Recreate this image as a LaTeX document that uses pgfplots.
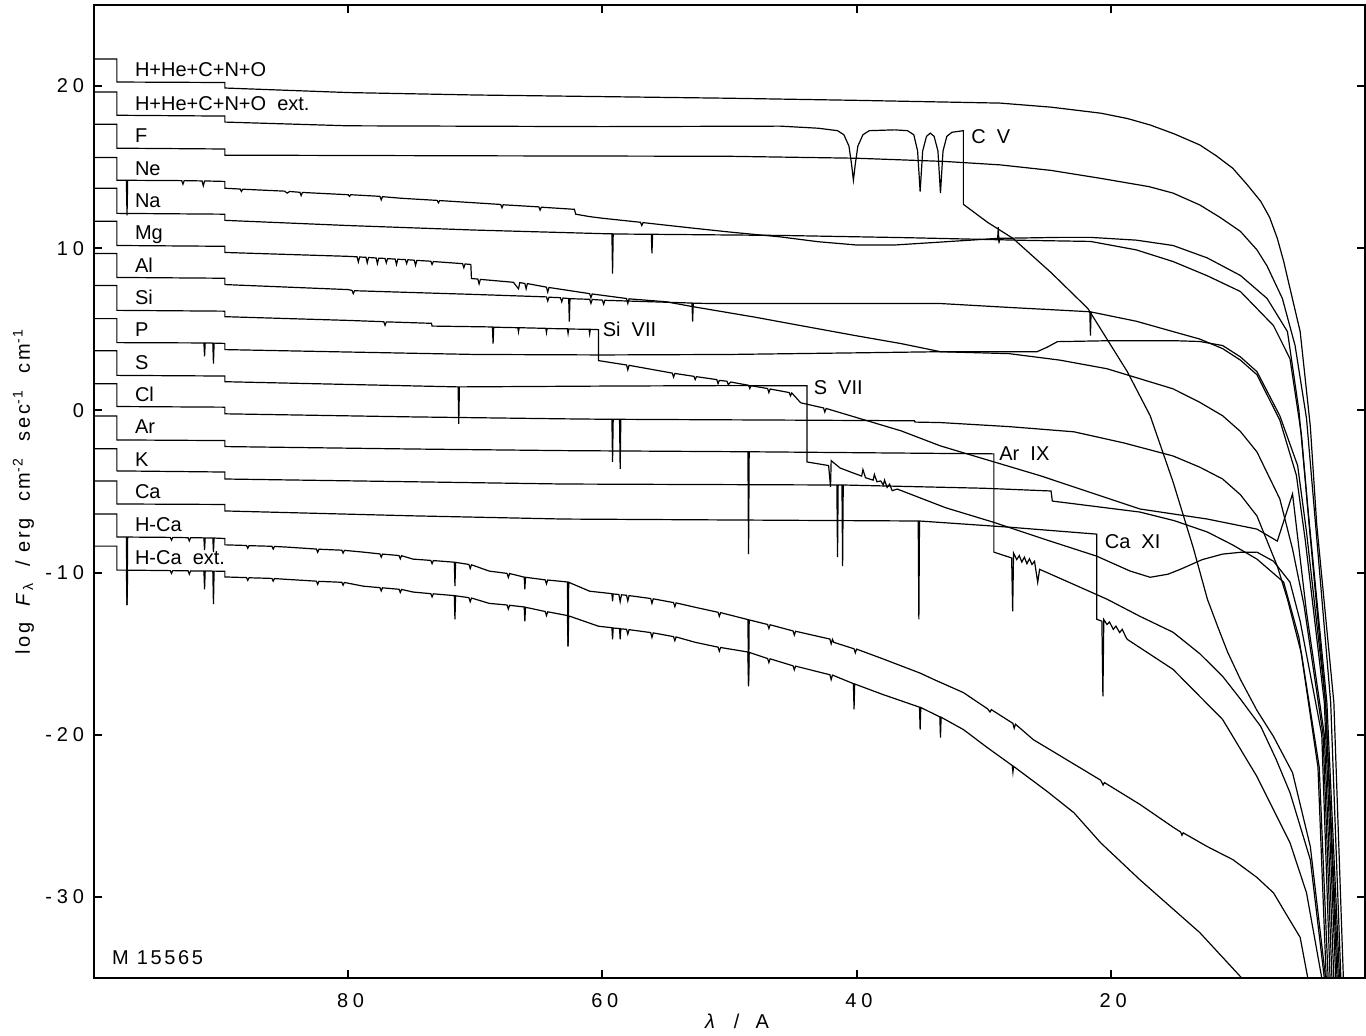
\documentclass[border=0pt]{standalone}
\usepackage{fontspec}
\setmainfont{Liberation Sans}
\newfontfamily\lsfont[LetterSpace=13]{Liberation Sans}
\newfontfamily\tickfont[LetterSpace=24]{Liberation Sans}
\usepackage{pgfplots}
\pgfplotsset{compat=1.18}
\tikzset{sp/.style={black, line width=0.6pt, mark=none},
         lab/.style={anchor=base west, inner sep=0pt}}
\begin{document}
\begin{tikzpicture}
\begin{axis}[
  scale only axis, width=635.5pt, height=486.5pt,
  at={(0pt,0pt)}, anchor=south west,
  xmin=0, xmax=100, ymin=-35, ymax=25, x dir=reverse,
  axis line style={line width=1.3pt},
  tick align=inside, major tick length=4pt,
  every tick/.style={black, line width=1pt},
  xtick={20,40,60,80}, xticklabels={20,40,60,80},
  ytick={-30,-20,-10,0,10,20}, yticklabels={-30,-20,-10,0,10,20},
  xticklabel style={font=\tickfont, yshift=-4pt, xshift=1.2pt},
  yticklabel style={font=\tickfont, xshift=-1.5pt},
  xlabel={\lsfont\textit{λ}\ \ /\ \ A},
  ylabel={\lsfont log\ \ \textit{F}\textsubscript{λ}\ \ /\ erg\ \ cm\textsuperscript{-2}\ \ sec\textsuperscript{-1}\ \ cm\textsuperscript{-1}},
  every axis x label/.style={at={(axis description cs:0.506,-0.045)}, anchor=center},
  every axis y label/.style={at={(axis description cs:-0.0555,0.5)}, anchor=center, rotate=90},
]
% 1 H+He+C+N+O
\addplot[sp] coordinates {(100,21.67)(98.2,21.67)(98.2,20.25)(89.7,20.22)(89.7,19.88)(80,19.6)(70,19.45)(60,19.35)(50,19.25)(40,19.12)(28.7,18.95)(24.7,18.7)(20.8,18.33)(18.7,18.0)(16.9,17.6)(15,17.05)(13.0,16.37)(11.7,15.7)(10.4,14.93)(9.3,13.95)(8.2,12.89)(7.5,11.9)(6.9,10.61)(6.4,9.2)(5.9,7.52)(5.1,4.86)(4.3,-1.0)(3.8,-7)(2.45,-18)(1.7,-35)};
% 2 H+He+C+N+O ext
\addplot[sp] coordinates {(100,19.63)(98.2,19.63)(98.2,18.2)(89.7,18.15)(89.7,17.78)(80,17.55)(60,17.5)(46,17.53)(43,17.4)(41.5,17.25)(41.0,17.0)(40.6,16.3)(40.4,15.2)(40.25,14.2)(40.1,15.2)(39.9,16.3)(39.5,17.0)(39.0,17.25)(37,17.3)(36,17.25)(35.5,17.0)(35.2,16.0)(35.0,13.5)(34.8,16.0)(34.5,16.9)(34.2,17.1)(33.9,16.9)(33.6,16.0)(33.4,13.4)(33.2,16.0)(32.9,16.9)(32.5,17.15)(31.6,17.25)(31.6,12.71)(29.7,11.6)(27.7,10.61)(24.7,8.5)(21.8,6.28)(18.7,2.39)(16.9,-0.33)(15.1,-4.41)(13.5,-8.5)(12.4,-11.64)(11.6,-13.31)(10.8,-14.92)(9.8,-16.59)(8.5,-18.5)(7.2,-20.11)(5.7,-22.34)(4.3,-26.9)(3.1,-35)};
% 3 F
\addplot[sp] coordinates {(100,17.65)(98.2,17.65)(98.2,16.17)(89.7,16.12)(89.7,15.74)(70,15.7)(50,15.67)(40,15.55)(33,15.35)(28.7,15.14)(24.7,14.8)(20.8,14.31)(17,13.8)(15.1,13.4)(13.0,12.67)(11.4,11.9)(9.8,11.04)(8.5,9.9)(7.7,8.9)(6.5,6.9)(5.5,4.0)(4.6,-0.5)(4.0,-6)(2.7,-18)(1.9,-35)};
% 4 Ne
\addplot[sp] coordinates {(100,15.6)(98.2,15.6)(98.2,14.19)(97.45,14.19)(97.4,12.03)(97.35,14.19)(93.1,14.17)(93.0,13.95)(92.9,14.17)(91.5,14.15)(91.4,13.85)(91.3,14.15)(89.7,14.12)(89.7,13.70)(88.5,13.65)(88.4,13.5)(88.3,13.64)(85,13.52)(84.8,13.4)(84.6,13.5)(83.8,13.45)(83.7,13.25)(83.6,13.44)(80,13.3)(79.9,13.2)(79.8,13.3)(77.5,13.2)(77.4,12.98)(77.3,13.18)(75.8,13.08)(73,12.95)(72.9,12.8)(72.8,12.94)(70,12.8)(68,12.7)(67.9,12.5)(67.8,12.68)(65,12.55)(64.9,12.35)(64.8,12.53)(62.2,12.4)(62.1,12.1)(61,11.95)(60,11.85)(57,11.6)(56.9,11.4)(56.8,11.58)(53,11.25)(50,11.0)(46,10.7)(43,10.4)(40,10.2)(37,10.2)(34,10.35)(31,10.5)(28.9,10.61)(28.85,11.3)(28.8,10.3)(28.75,10.61)(24,10.67)(21.6,10.67)(18,10.5)(15.1,10.17)(12.4,9.4)(9.8,8.32)(7.7,6.9)(6.1,4.86)(5.2,0)(4.5,-6)(3.0,-18)(2.0,-35)};
% 5 Na
\addplot[sp] coordinates {(100,13.7)(98.2,13.7)(98.2,12.15)(89.7,12.1)(89.7,11.72)(80,11.4)(70,11.12)(60,10.9)(59.25,10.89)(59.2,8.44)(59.15,10.88)(56.15,10.86)(56.1,9.68)(56.05,10.86)(46,10.79)(36,10.65)(26.3,10.48)(21.6,10.42)(18,9.9)(15.1,9.18)(12.4,8.3)(9.8,7.33)(7.2,5.23)(5.9,3.19)(5.0,-1.5)(4.4,-7)(3.1,-18)(2.1,-35)};
% 6 Mg
\addplot[sp] coordinates {(100,11.66)(98.2,11.66)(98.2,10.17)(89.7,10.12)(89.7,9.74)(80,9.5)(79.3,9.47)(79.2,9.15)(79.1,9.46)(78.6,9.44)(78.5,9.1)(78.4,9.43)(77.8,9.4)(77.7,9.05)(77.6,9.39)(77.1,9.37)(77.0,9.1)(76.9,9.36)(76.3,9.33)(76.2,9.0)(76.1,9.32)(75.5,9.3)(75.4,9.05)(75.3,9.29)(74.8,9.26)(74.7,8.95)(74.6,9.25)(73.5,9.2)(73.4,9.0)(73.3,9.18)(71,9.05)(70.9,8.8)(70.8,9.03)(70.35,9.0)(70.3,8.13)(69.8,8.1)(69.7,7.8)(69.6,8.08)(67,7.9)(66.6,7.5)(66.5,7.88)(66.1,7.83)(66.0,7.5)(65.9,7.82)(64.4,7.6)(64.3,7.3)(64.2,7.58)(61,7.2)(60.9,6.95)(60.8,7.18)(58.1,6.9)(58.0,6.6)(57.9,6.88)(55,6.7)(52.9,6.4)(48,5.75)(44.4,5.23)(40,4.6)(36.5,4.12)(33.4,3.62)(25.8,3.62)(25.0,3.9)(24.2,4.24)(20,4.3)(15.1,4.3)(13,4.25)(11.2,4.0)(9.8,3.3)(8.5,2.39)(6.7,-0.33)(5.3,-3.4)(4.6,-7.5)(3.1,-18)(2.2,-35)};
% 7 Al
\addplot[sp] coordinates {(100,9.68)(98.2,9.68)(98.2,8.2)(89.7,8.15)(89.7,7.76)(80,7.45)(79.7,7.4)(79.6,7.2)(79.5,7.38)(70,7.15)(64.4,7.0)(64.3,6.75)(64.2,6.98)(63.3,6.95)(63.2,6.7)(63.1,6.93)(62.65,6.9)(62.6,5.48)(62.55,6.89)(61.0,6.85)(60.9,6.6)(60.8,6.84)(60.0,6.8)(59.9,6.55)(59.8,6.79)(52.95,6.62)(52.9,5.48)(52.85,6.61)(51.2,6.59)(40,6.59)(33.4,6.59)(28,6.35)(21.8,6.09)(21.65,6.08)(21.6,4.61)(21.55,6.07)(18,5.5)(15.1,4.86)(13,4.4)(11.2,3.81)(9.8,3.1)(8.5,2.2)(6.7,-0.6)(5.4,-4)(4.7,-8)(3.2,-18)(2.3,-35)};
% 8 Si
\addplot[sp] coordinates {(100,7.7)(98.2,7.7)(98.2,6.17)(89.7,6.12)(89.7,5.78)(80,5.55)(77.2,5.47)(77.1,5.25)(77.0,5.46)(73.45,5.37)(73.4,5.2)(69,5.15)(68.65,5.14)(68.6,4.12)(68.55,5.13)(66.65,5.1)(66.6,4.85)(66.55,5.1)(64.45,5.06)(64.4,4.8)(64.35,5.05)(62.75,5.03)(62.7,4.75)(62.65,5.02)(61.05,5.0)(61.0,4.72)(60.95,5.0)(60.3,4.98)(60.3,3.07)(58.1,2.8)(58.0,2.5)(57.9,2.78)(54.5,2.3)(54.4,2.05)(54.3,2.28)(52.8,2.1)(52.7,1.9)(52.6,2.08)(51.0,1.9)(50.9,1.65)(50.8,1.85)(50.2,1.8)(50.1,1.6)(49.9,1.75)(48.5,1.55)(48.4,1.35)(48.3,1.52)(47.0,1.35)(46.9,1.1)(46.8,1.32)(45.3,1.1)(45.2,0.9)(45.1,1.08)(44.4,0.47)(42.6,0.15)(42.5,-0.1)(42.4,0.12)(41.8,-0.02)(36.5,-1.26)(33.4,-2.19)(25.5,-4.04)(17.7,-6.08)(12.4,-6.7)(8.5,-7.32)(6.9,-8.06)(5.7,-5.15)(4.6,-12.45)(3.2,-20)(2.45,-35)};
% 9 P
\addplot[sp] coordinates {(100,5.66)(98.2,5.66)(98.2,4.18)(91.35,4.16)(91.3,3.33)(91.25,4.16)(90.65,4.15)(90.6,2.88)(90.55,4.15)(89.7,4.13)(89.7,3.75)(80,3.6)(70,3.45)(60,3.42)(50,3.45)(40,3.55)(33.4,3.62)(28,3.5)(24,3.1)(20.3,2.57)(17.7,1.95)(15.1,1.33)(13,0.5)(11.2,-0.33)(9.8,-1.3)(8.5,-2.56)(6.7,-5.46)(5.7,-8.55)(4.8,-12)(3.3,-20)(2.6,-35)};
% 10 S
\addplot[sp] coordinates {(100,3.68)(98.2,3.68)(98.2,2.16)(89.7,2.12)(89.7,1.77)(80,1.6)(71.35,1.45)(71.3,-0.83)(71.25,1.45)(60,1.5)(50,1.53)(43.9,1.52)(43.9,-3.18)(42.2,-3.4)(42.05,-4.72)(42.0,-3.1)(41.3,-3.55)(40.3,-3.85)(39.6,-4.05)(39.5,-3.65)(39.3,-4.15)(38.7,-4.3)(38.6,-3.95)(38.4,-4.4)(38.1,-4.35)(37.9,-4.6)(37.8,-4.3)(37.6,-4.75)(37.4,-4.55)(37.2,-4.95)(36.8,-4.85)(33,-6.0)(29.3,-6.88)(25,-8.0)(21.1,-8.99)(18.5,-9.9)(16.9,-10.29)(15.5,-10.1)(14.5,-9.79)(12.8,-9.2)(11.2,-8.86)(9.8,-8.75)(8.5,-8.74)(7.2,-9.3)(5.9,-10.59)(5.1,-13)(3.4,-20)(2.75,-35)};
% 11 Cl
\addplot[sp] coordinates {(100,1.64)(98.2,1.64)(98.2,0.24)(89.7,0.2)(89.7,-0.21)(75,-0.4)(63,-0.52)(59.25,-0.55)(59.2,-3.18)(59.15,-0.55)(58.65,-0.55)(58.6,-3.61)(58.55,-0.55)(45,-0.6)(35.45,-0.64)(35.4,-0.72)(33.4,-0.75)(28,-1.0)(22.9,-1.32)(19,-2.0)(15.1,-2.81)(13,-3.5)(11.2,-4.23)(9.8,-5.2)(8.5,-6.51)(6.9,-9.6)(6.1,-11.64)(5.0,-15)(3.6,-22)(2.9,-35)};
% 12 Ar
\addplot[sp] coordinates {(100,-0.34)(98.2,-0.34)(98.2,-1.82)(89.7,-1.86)(89.7,-2.23)(75,-2.38)(63,-2.48)(48.55,-2.55)(48.5,-8.86)(48.45,-2.55)(29.2,-2.68)(29.2,-8.74)(27.8,-9.1)(27.72,-12.39)(27.65,-8.8)(27.4,-9.2)(27.2,-8.95)(27.0,-9.35)(26.8,-9.05)(26.6,-9.45)(26.4,-9.15)(26.2,-9.5)(26.0,-9.3)(25.75,-10.6)(25.6,-9.8)(23,-10.7)(20.3,-11.64)(17.7,-12.7)(15.1,-13.68)(13,-15)(11.2,-16.4)(9.8,-17.8)(8.2,-19.49)(7,-21.5)(5.9,-23.57)(4.3,-27.71)(3.2,-35)};
% 13 K
\addplot[sp] coordinates {(100,-2.37)(98.2,-2.37)(98.2,-3.73)(89.7,-3.8)(89.7,-4.23)(75,-4.4)(63,-4.54)(41.55,-4.6)(41.5,-9.05)(41.45,-4.6)(41.15,-4.6)(41.1,-9.6)(41.05,-4.6)(30,-4.8)(24.7,-4.97)(24.6,-5.59)(17.7,-6.27)(15,-6.8)(12.4,-7.5)(10.4,-8.3)(8.5,-9.17)(6.4,-10.59)(5.2,-14)(3.7,-22)(3.05,-35)};
% 14 Ca
\addplot[sp] coordinates {(100,-4.35)(98.2,-4.35)(98.2,-5.77)(89.7,-5.8)(89.7,-6.2)(75,-6.5)(63,-6.7)(35.15,-6.82)(35.1,-12.88)(35.05,-6.82)(28,-7.2)(21.1,-7.63)(21.1,-12.88)(20.7,-13.0)(20.62,-17.64)(20.55,-12.9)(20.3,-13.2)(20.1,-13.05)(19.8,-13.5)(19.6,-13.3)(19.3,-13.7)(19.1,-13.5)(18.8,-14.0)(18.7,-14.12)(15.1,-15.97)(11.2,-19.06)(8.5,-22.58)(5.9,-26.66)(4.6,-29.75)(3.4,-35)};
% 15 H-Ca
\addplot[sp] coordinates {(100,-6.39)(98.2,-6.39)(98.2,-7.81)(97.45,-7.81)(97.4,-12.0)(97.35,-7.81)(94,-7.83)(93.9,-8.0)(93.8,-7.83)(92.6,-7.85)(92.5,-8.05)(92.4,-7.85)(91.35,-7.86)(91.3,-8.62)(91.25,-7.86)(90.65,-7.87)(90.6,-8.74)(90.55,-7.87)(89.7,-7.9)(89.7,-8.29)(88,-8.33)(87.9,-8.5)(87.8,-8.34)(86,-8.38)(85.9,-8.55)(85.8,-8.39)(84.8,-8.43)(82.5,-8.55)(82.4,-8.75)(82.3,-8.56)(80.5,-8.62)(80.4,-8.8)(80.3,-8.63)(78.8,-8.74)(77.5,-8.85)(77.4,-9.05)(77.3,-8.86)(76,-8.95)(75.9,-9.15)(75.8,-8.96)(74.9,-9.17)(73.5,-9.25)(73.4,-9.45)(73.3,-9.26)(71.65,-9.36)(71.6,-10.84)(71.55,-9.37)(70.5,-9.5)(70.4,-9.75)(70.3,-9.52)(68.9,-9.91)(67.5,-10.05)(67.4,-10.3)(67.3,-10.06)(66.15,-10.28)(66.1,-11.03)(66.05,-10.29)(64.5,-10.45)(64.4,-10.7)(64.3,-10.46)(62.75,-10.58)(62.7,-14.55)(62.65,-10.6)(61.0,-11.15)(59.25,-11.3)(59.2,-11.77)(59.15,-11.32)(58.7,-11.35)(58.6,-11.8)(58.5,-11.37)(58.1,-11.4)(58.0,-11.75)(57.9,-11.42)(56.2,-11.6)(56.1,-11.9)(56.0,-11.62)(54.4,-11.85)(54.3,-12.1)(54.2,-11.87)(52.7,-12.14)(50.9,-12.45)(50.8,-12.7)(50.7,-12.47)(48.55,-12.9)(48.5,-16.9)(48.45,-12.92)(47,-13.2)(46.9,-13.45)(46.8,-13.22)(45,-13.6)(44.9,-13.85)(44.8,-13.62)(42.1,-14.1)(42.0,-14.4)(41.9,-14.12)(41.8,-14.3)(40.2,-14.7)(40.1,-14.95)(40.0,-14.72)(38,-15.3)(35,-16.2)(33.9,-16.6)(31.6,-17.4)(29.7,-18.4)(29.5,-18.6)(29.4,-18.45)(27.7,-19.3)(27.6,-19.6)(27.5,-19.35)(26.1,-20.3)(20.8,-22.8)(20.6,-23.1)(20.5,-22.95)(17.7,-24.3)(15.1,-25.7)(14.5,-26.0)(14.4,-26.2)(14.3,-26.05)(12.4,-26.9)(10.4,-27.7)(8.5,-28.8)(7.2,-29.75)(5.1,-32.5)(4.5,-35)};
% 16 H-Ca ext
\addplot[sp] coordinates {(100,-8.37)(98.2,-8.37)(98.2,-9.85)(97.45,-9.85)(97.4,-12.01)(97.35,-9.85)(94,-9.88)(93.9,-10.05)(93.8,-9.88)(92.6,-9.89)(92.5,-10.1)(92.4,-9.9)(91.35,-9.9)(91.3,-11.03)(91.25,-9.9)(90.65,-9.91)(90.6,-11.95)(90.55,-9.91)(89.7,-9.92)(89.7,-10.27)(88,-10.31)(87.9,-10.48)(87.8,-10.32)(86,-10.36)(85.9,-10.53)(85.8,-10.37)(84.8,-10.42)(82.5,-10.53)(82.4,-10.73)(82.3,-10.54)(80.5,-10.6)(80.4,-10.78)(80.3,-10.61)(78.8,-10.84)(77.5,-10.93)(77.4,-11.13)(77.3,-10.94)(76,-11.03)(75.9,-11.23)(75.8,-11.04)(74.9,-11.2)(73.5,-11.3)(73.4,-11.5)(73.3,-11.31)(71.65,-11.42)(71.6,-12.88)(71.55,-11.43)(70.5,-11.55)(70.4,-11.8)(70.3,-11.57)(68.9,-11.9)(67.5,-12.0)(67.4,-12.25)(67.3,-12.02)(66.15,-12.12)(66.1,-13.0)(66.05,-12.14)(64.5,-12.4)(64.4,-12.65)(64.3,-12.42)(62.75,-12.65)(62.7,-14.55)(62.65,-12.67)(60.3,-13.31)(59.25,-13.4)(59.2,-14.12)(59.15,-13.42)(58.65,-13.45)(58.6,-14.12)(58.55,-13.47)(58.1,-13.5)(58.0,-13.8)(57.9,-13.52)(56.2,-13.7)(56.1,-14.0)(56.0,-13.72)(54.4,-13.95)(54.3,-14.2)(54.2,-13.97)(52.7,-14.3)(50.9,-14.6)(50.8,-14.85)(50.7,-14.62)(48.55,-14.9)(48.5,-17.02)(48.45,-14.92)(47,-15.3)(46.9,-15.55)(46.8,-15.32)(45,-15.75)(44.9,-16.0)(44.8,-15.77)(42.1,-16.3)(42.0,-16.6)(41.9,-16.32)(40.25,-16.85)(40.2,-18.44)(40.15,-16.87)(38,-17.5)(35.05,-18.3)(35.0,-19.68)(34.95,-18.32)(33.45,-18.9)(33.4,-20.17)(33.35,-18.92)(31.6,-19.68)(29.7,-20.8)(27.75,-21.9)(27.7,-22.3)(27.65,-21.95)(25,-23.5)(22.9,-24.81)(20.8,-26.66)(17.7,-28.95)(13,-32.2)(9.7,-35)};
% curve labels
\node[lab] at (axis cs:96.8,20.56) {H+He+C+N+O};
\node[lab] at (axis cs:96.8,18.52) {H+He+C+N+O\ \ ext.};
\node[lab] at (axis cs:96.8,16.54) {F};
\node[lab] at (axis cs:96.8,14.5) {Ne};
\node[lab] at (axis cs:96.8,12.52) {Na};
\node[lab] at (axis cs:96.8,10.55) {Mg};
\node[lab] at (axis cs:96.8,8.51) {Al};
\node[lab] at (axis cs:96.8,6.53) {Si};
\node[lab] at (axis cs:96.8,4.55) {P};
\node[lab] at (axis cs:96.8,2.51) {S};
\node[lab] at (axis cs:96.8,0.53) {Cl};
\node[lab] at (axis cs:96.8,-1.44) {Ar};
\node[lab] at (axis cs:96.8,-3.48) {K};
\node[lab] at (axis cs:96.8,-5.46) {Ca};
\node[lab] at (axis cs:96.8,-7.44) {H-Ca};
\node[lab] at (axis cs:96.8,-9.48) {H-Ca\ \ ext.};
% edge labels
\node[lab] at (axis cs:31.0,16.48) {C\ \ V};
\node[lab] at (axis cs:60.0,4.55) {Si\ \ VII};
\node[lab] at (axis cs:43.4,0.96) {S\ \ VII};
\node[lab] at (axis cs:28.8,-3.11) {Ar\ \ IX};
\node[lab] at (axis cs:20.5,-8.49) {Ca\ \ XI};
\node[lab] at (axis cs:98.6,-34.14) {\lsfont M\ 15565};
\end{axis}
\pgfresetboundingbox
\path (-47pt,-29pt) rectangle (636pt,489pt);
\end{tikzpicture}
\end{document}
